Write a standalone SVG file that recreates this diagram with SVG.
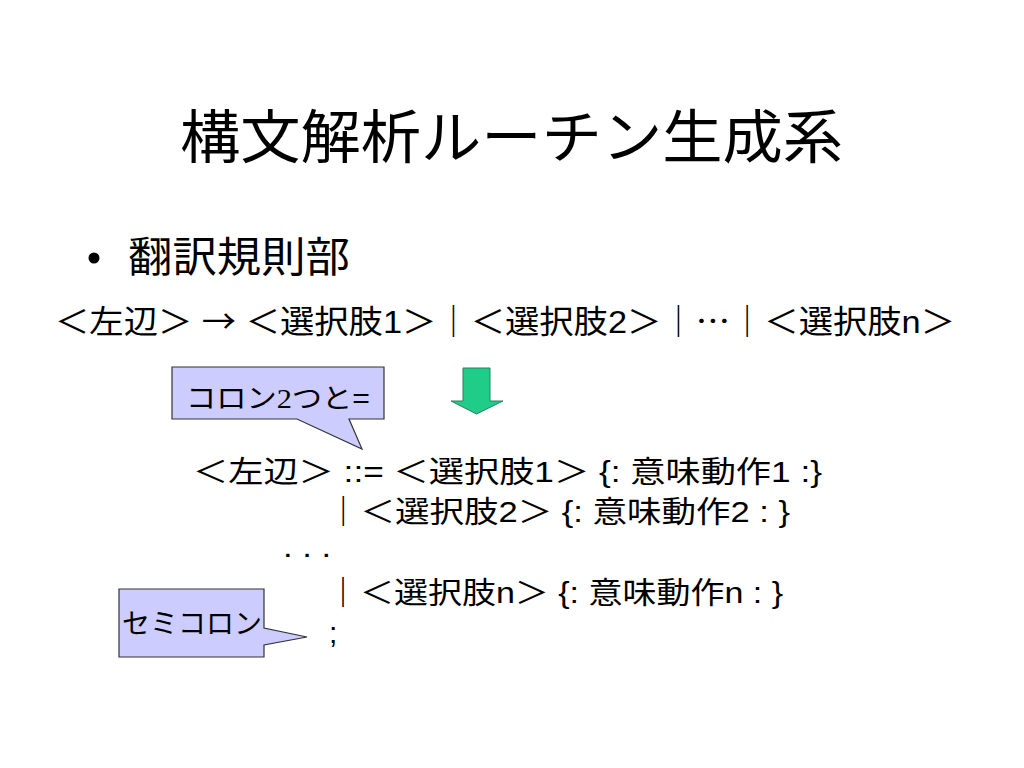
<svg xmlns="http://www.w3.org/2000/svg" width="1024" height="768" viewBox="0 0 1024 768">
<style>
text{font-family:"Liberation Sans","Noto Sans CJK JP",sans-serif;fill:#000}
.cjk{font-family:"Noto Sans CJK JP",sans-serif}
.callout{fill:#ccccff;stroke:#333;stroke-width:1.2}
</style>
<rect width="1024" height="768" fill="#fff"/>
<g id="title"><text x="180" y="158" font-size="58" textLength="663" lengthAdjust="spacingAndGlyphs">構文解析ルーチン生成系</text></g>
<g id="bullet">
<circle cx="94" cy="258" r="5.5" fill="#000"/>
<text x="128" y="272" font-size="42" textLength="222" lengthAdjust="spacingAndGlyphs">翻訳規則部</text>
</g>
<g id="rule-line"><text x="55" y="333" font-size="32" textLength="900" lengthAdjust="spacingAndGlyphs">＜左辺＞ <tspan class="cjk">→</tspan> ＜選択肢1＞｜＜選択肢2＞｜<tspan class="cjk">⋯</tspan>｜＜選択肢n＞</text></g>
<g id="arrow-down"><path d="M463,368 H490 V401 H503 L476.5,414 L451,401 H463 Z" fill="#1fcc88" stroke="#2a8060" stroke-width="1"/></g>
<g id="callout-colon">
<path class="callout" d="M172,367 H384 V419 H349 L362,449 L297,419 H172 Z"/>
<text x="186" y="408" font-size="27" textLength="184" lengthAdjust="spacingAndGlyphs">コロン<tspan font-family="Liberation Serif">2</tspan>つと=</text>
</g>
<g id="grammar">
<text x="193" y="482" font-size="30" textLength="629" lengthAdjust="spacingAndGlyphs">＜左辺＞ ::=  ＜選択肢1＞ {: 意味動作1 :}</text>
<text x="326" y="522" font-size="30" textLength="464" lengthAdjust="spacingAndGlyphs">｜＜選択肢2＞ {: 意味動作2 : }</text>
<text x="283" y="557" font-size="30" textLength="48" lengthAdjust="spacingAndGlyphs">. . .</text>
<text x="326" y="603" font-size="30" textLength="457" lengthAdjust="spacingAndGlyphs">｜＜選択肢n＞ {: 意味動作n : }</text>
<text x="329" y="643" font-size="30">;</text>
</g>
<g id="callout-semicolon">
<path class="callout" d="M119,589 H264 V628 L307,637 L264,645 V657 H119 Z"/>
<text x="122" y="634" font-size="28" textLength="140" lengthAdjust="spacingAndGlyphs">セミコロン</text>
</g>
</svg>
